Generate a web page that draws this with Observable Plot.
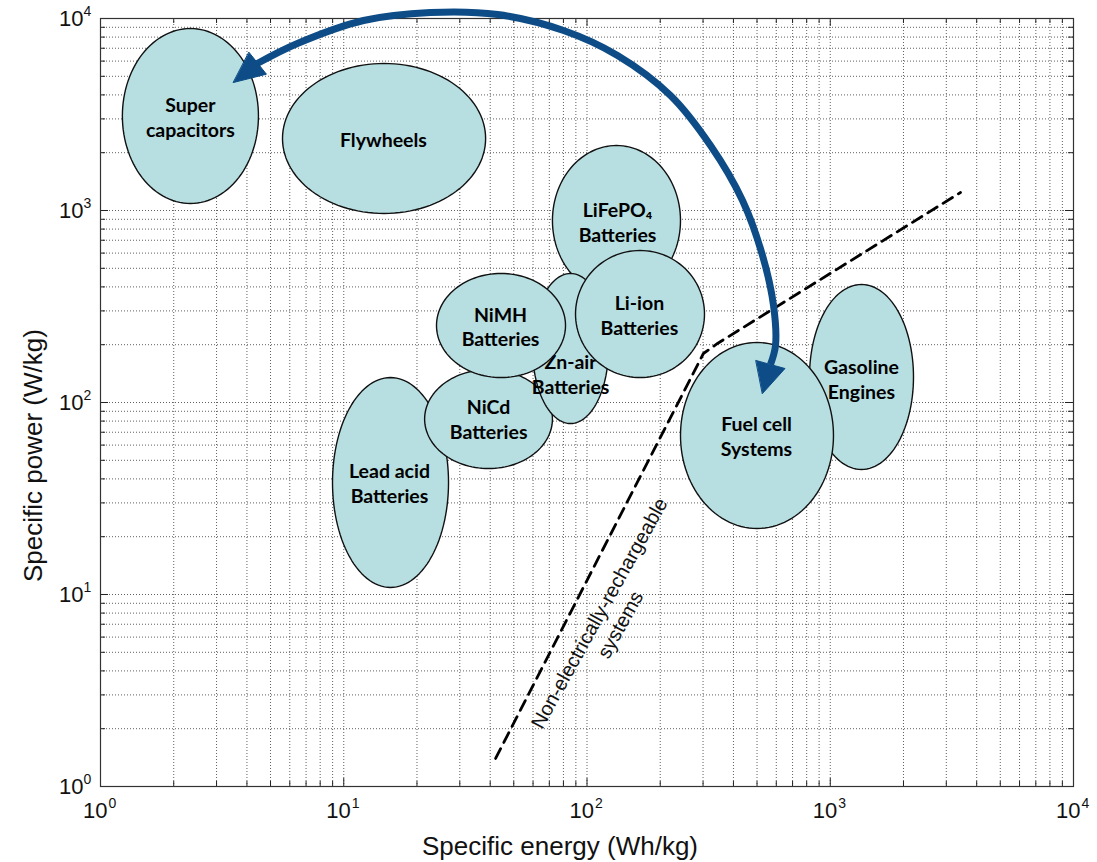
<!DOCTYPE html>
<html><head><meta charset="utf-8">
<script src="https://cdn.jsdelivr.net/npm/d3@7"></script>
<script src="https://cdn.jsdelivr.net/npm/@observablehq/plot@0.6"></script>
<style>
html,body{margin:0;padding:0;background:#fff;}
#chart svg{display:block;}
</style></head><body><div id="chart"></div>
<script>
// Technologies, in drawing order (later ones sit on top)
const techNames = ["Lead acid", "NiCd", "LiFePO4", "Zn-air", "NiMH", "Li-ion", "Gasoline", "Fuel cell", "Super capacitors", "Flywheels"];
const techLabels = ["Lead acid\nBatteries", "NiCd\nBatteries", "LiFePO₄\nBatteries", "Zn-air\nBatteries", "NiMH\nBatteries", "Li-ion\nBatteries", "Gasoline\nEngines", "Fuel cell\nSystems", "Super\ncapacitors", "Flywheels"];
// Specific energy range (Wh/kg) and specific power range (W/kg) of each region
const energyMin = [8.99, 21.5, 72.1, 59.7, 24.06, 89.7, 821.5, 242.3, 1.23, 5.60];
const energyMax = [26.96, 72.1, 242.3, 122.6, 81.6, 304.1, 2199, 1031, 4.46, 38.3];
const powerMin  = [10.88, 45.3, 360.8, 77.7, 134.9, 134.9, 44.8, 22.07, 1088, 965];
const powerMax  = [134.9, 148.5, 2180, 469.8, 469.8, 619, 411.8, 205.4, 8870, 5830];
// Label anchor positions
const labelEnergy = [15.42, 39.4, 133.5, 85.6, 44.1, 164.3, 1344, 497.6, 2.34, 14.56];
const labelPower  = [38.5, 82.5, 876, 140.8, 250.3, 287.3, 132.6, 67.3, 3088, 2371];

// Boundary of non-electrically-rechargeable systems (dashed)
const boundaryEnergy = [42.1, 301, 344, 3432];
const boundaryPower  = [1.40, 180, 203, 1241];
const boundaryLabel = "Non-electrically-rechargeable\nsystems";
const boundaryLabelEnergy = 123.1, boundaryLabelPower = 7.5;

// Curved double arrow (Fuel cells <-> Super capacitors)
const arrowEnergy = [4.41, 6.45, 12.06, 22.7, 42.9, 80.1, 133.5, 220.4, 321.9, 435.8, 526.6, 584.5, 595.6, 568];
const arrowPower  = [5830, 7410, 9760, 10750, 10491, 8660, 6417, 3972, 2180, 1127, 583, 320.1, 198.1, 157.7];
const headEnergy = [[3.52, 4.81, 4.08], [526.6, 651.6, 495.3]];
const headPower  = [[4642, 5128, 6659], [111.4, 150.3, 165.5]];

// Axes
const decades = [1, 10, 100, 1000, 10000];
const tickExponents = ["0", "1", "2", "3", "4"];
const minorMultipliers = [2, 3, 4, 5, 6, 7, 8, 9];
const xTitle = "Specific energy (Wh/kg)";
const yTitle = "Specific power (W/kg)";
const yTitleAt = 52.9; // vertical centre of the y title, in W/kg

// ---- derived tables ----
const minorValues = decades.slice(0, -1).flatMap(d => minorMultipliers.map(m => m * d));
const gridValues = [...decades, ...minorValues];

const steps = 120;
const ellipses = techNames.map((name, i) => {
  const cx = (Math.log10(energyMin[i]) + Math.log10(energyMax[i])) / 2;
  const rx = (Math.log10(energyMax[i]) - Math.log10(energyMin[i])) / 2;
  const cy = (Math.log10(powerMin[i]) + Math.log10(powerMax[i])) / 2;
  const ry = (Math.log10(powerMax[i]) - Math.log10(powerMin[i])) / 2;
  return d3.range(steps).map(k => {
    const t = 2 * Math.PI * k / steps;
    return {name, e: 10 ** (cx + rx * Math.cos(t)), p: 10 ** (cy + ry * Math.sin(t))};
  });
});
const boundary = boundaryEnergy.map((e, i) => ({e, p: boundaryPower[i]}));
const arrow = arrowEnergy.map((e, i) => ({e, p: arrowPower[i]}));
const heads = headEnergy.flatMap((es, h) => es.map((e, k) => ({h, e, p: headPower[h][k]})));

const axisFont = "'Liberation Sans', Arial, Helvetica, sans-serif";
const labelFont = "Lato, Carlito, Calibri, sans-serif";
const frameH = 862 - 18 - 76, frameW = 1097 - 100 - 24;
const fill = "#b7dee1";
const arrowColor = "#0d4c86";

const marks = [
  // grid
  Plot.ruleX(gridValues, {x: d => d, stroke: "#444", strokeWidth: 1, strokeDasharray: "1,2", strokeOpacity: 0.85}),
  Plot.ruleY(gridValues, {y: d => d, stroke: "#444", strokeWidth: 1, strokeDasharray: "1,2", strokeOpacity: 0.85}),
  // inward ticks on all sides
  Plot.tickX(decades, {x: d => d, insetTop: frameH - 8, stroke: "#222"}),
  Plot.tickX(minorValues, {x: d => d, insetTop: frameH - 5, stroke: "#222"}),
  Plot.tickX(decades, {x: d => d, insetBottom: frameH - 8, stroke: "#222"}),
  Plot.tickX(minorValues, {x: d => d, insetBottom: frameH - 5, stroke: "#222"}),
  Plot.tickY(decades, {y: d => d, insetRight: frameW - 8, stroke: "#222"}),
  Plot.tickY(minorValues, {y: d => d, insetRight: frameW - 5, stroke: "#222"}),
  Plot.tickY(decades, {y: d => d, insetLeft: frameW - 8, stroke: "#222"}),
  Plot.tickY(minorValues, {y: d => d, insetLeft: frameW - 5, stroke: "#222"}),
  Plot.frame({stroke: "#333", strokeWidth: 1.2}),
  // tick labels
  Plot.text(decades, {x: d => d, text: () => "10", frameAnchor: "bottom", textAnchor: "end", lineAnchor: "bottom", dx: 7, dy: 31, fontSize: 22, fontFamily: axisFont, fill: "#111"}),
  Plot.text(decades, {x: d => d, text: (d, i) => tickExponents[i], frameAnchor: "bottom", textAnchor: "start", lineAnchor: "bottom", dx: 8, dy: 21, fontSize: 14, fontFamily: axisFont, fill: "#111"}),
  Plot.text(decades, {y: d => d, text: () => "10", frameAnchor: "left", textAnchor: "end", lineAnchor: "middle", dx: -17, dy: 0, fontSize: 22, fontFamily: axisFont, fill: "#111"}),
  Plot.text(decades, {y: d => d, text: (d, i) => tickExponents[i], frameAnchor: "left", textAnchor: "start", lineAnchor: "middle", dx: -17, dy: -7, fontSize: 14, fontFamily: axisFont, fill: "#111"}),
  // axis titles
  Plot.text([xTitle], {text: d => d, frameAnchor: "bottom", textAnchor: "middle", lineAnchor: "bottom", dx: -27, dy: 68, fontSize: 26, fontFamily: axisFont, fill: "#111"}),
  Plot.text([yTitle], {text: d => d, y: () => yTitleAt, frameAnchor: "left", textAnchor: "middle", lineAnchor: "middle", rotate: -90, dx: -67, fontSize: 26, fontFamily: axisFont, fill: "#111"}),
];

// ellipses with their labels, in drawing order
techNames.forEach((name, i) => {
  marks.push(Plot.line(ellipses[i], {x: "e", y: "p", curve: "linear-closed", fill, stroke: "#111", strokeWidth: 1.4}));
  marks.push(Plot.text([i], {x: j => labelEnergy[j], y: j => labelPower[j], text: j => techLabels[j],
    fontFamily: labelFont, fontWeight: "bold", fontSize: 19.5, lineHeight: 1.28, fill: "#000"}));
});

marks.push(
  Plot.line(boundary, {x: "e", y: "p", stroke: "#000", strokeWidth: 2.8, strokeDasharray: "11,7"}),
  Plot.text([boundaryLabel], {x: () => boundaryLabelEnergy, y: () => boundaryLabelPower, text: d => d, rotate: -61,
    fontSize: 20, lineHeight: 1.2, fontFamily: axisFont, fill: "#111"}),
  Plot.line(arrow, {x: "e", y: "p", curve: "catmull-rom", stroke: arrowColor, strokeWidth: 7, strokeLinecap: "butt"}),
  Plot.line(heads, {x: "e", y: "p", z: "h", curve: "linear-closed", fill: arrowColor, stroke: arrowColor, strokeWidth: 1})
);

const chart = Plot.plot({
  width: 1097, height: 862,
  marginLeft: 100, marginRight: 24, marginTop: 18, marginBottom: 76,
  x: {type: "log", domain: [1, 10000], axis: null},
  y: {type: "log", domain: [1, 10000], axis: null},
  style: {background: "#fff", overflow: "visible"},
  marks
});
document.getElementById("chart").appendChild(chart);
</script></body></html>
